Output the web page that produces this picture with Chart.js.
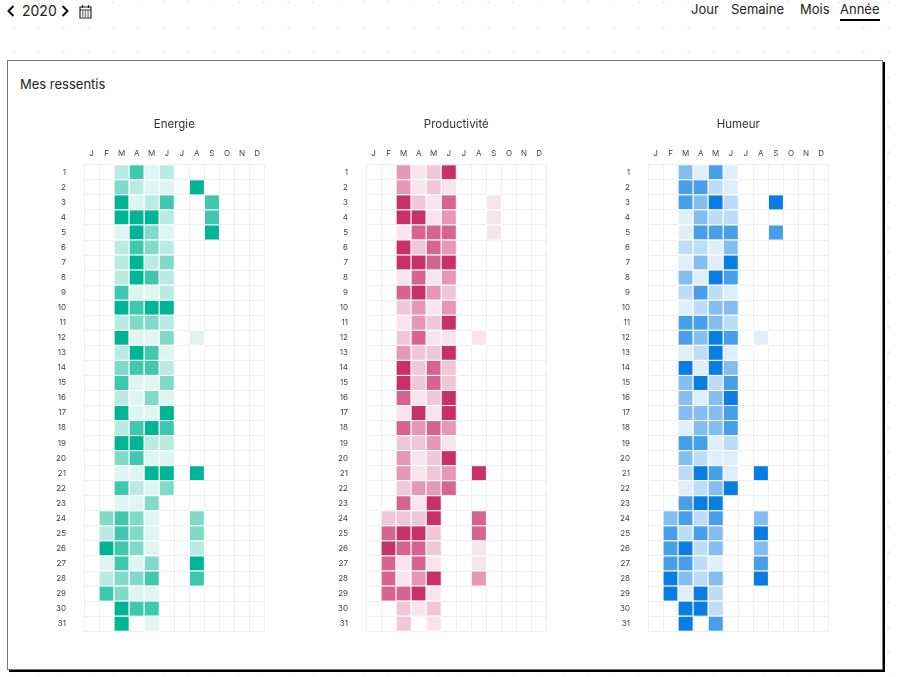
<!DOCTYPE html>
<html lang="fr">
<head>
<meta charset="utf-8">
<title>Mes ressentis</title>
<script src="https://cdn.jsdelivr.net/npm/chart.js@4"></script>
<style>
  html, body { margin: 0; padding: 0; }
  body {
    width: 900px; height: 677px; position: relative; overflow: hidden; background: #fff;
    font-family: Inter, sans-serif; color: #222;
    background-image: radial-gradient(circle, #efefef 1px, transparent 1.2px);
    background-size: 25px 25px; background-position: 1px 15px; background-repeat: repeat;
  }
  .year { position: absolute; left: 22px; top: 0; font-size: 14px; line-height: 22px; }
  .nav { position: absolute; top: 0; font-size: 13px; line-height: 18px; }
  .nav.on { border-bottom: 2px solid #000; padding-bottom: 1px; }
  svg { position: absolute; }
  .card {
    position: absolute; left: 7px; top: 60px; width: 874px; height: 608px; background: #fff;
    border: 1px solid #777; box-shadow: 2px 2px 0 #000;
  }
  .card h2 { position: absolute; left: 12px; top: 14px; margin: 0; font-size: 13px; font-weight: 400; line-height: 18px; }
  canvas { position: absolute; top: 106px; }
</style>
</head>
<body>
<svg style="left:5px;top:5px" width="10" height="12" viewBox="0 0 10 12"><path d="M8.5 1 3.5 6l5 5" fill="none" stroke="#111" stroke-width="2"/></svg>
<div class="year">2020</div>
<svg style="left:60px;top:5px" width="10" height="12" viewBox="0 0 10 12"><path d="M2.5 1 7.5 6l-5 5" fill="none" stroke="#111" stroke-width="2"/></svg>
<svg style="left:79px;top:4px" width="13" height="15" viewBox="0 0 13 15"><path d="M1 3h11v11H1zM1 6h11M3.5 1v3M9.5 1v3" fill="none" stroke="#222" stroke-width="1.2"/><path d="M3 8h7M3 10h7M3 12h7" stroke="#222" stroke-dasharray="1.5 1.2"/></svg>
<div class="nav" style="left:691px">Jour</div>
<div class="nav" style="left:731px">Semaine</div>
<div class="nav" style="left:800px">Mois</div>
<div class="nav on" style="left:840px">Année</div>

<div class="card">
  <h2>Mes ressentis</h2>
</div>
<canvas id="energie" width="225" height="548" style="left:41px"></canvas>
<canvas id="productivite" width="225" height="548" style="left:323px"></canvas>
<canvas id="humeur" width="225" height="548" style="left:605px"></canvas>

<script>
const months = ["Jan", "Fév", "Mar", "Avr", "Mai", "Juin", "Juil", "Aoû", "Sep", "Oct", "Nov", "Déc"];
const days = ["1","2","3","4","5","6","7","8","9","10","11","12","13","14","15","16","17","18","19","20","21","22","23","24","25","26","27","28","29","30","31"];

// one line per day, one number per month, 0 = pas de saisie
const energie = [
  [0,0,2,4,1,2,0,0,0,0,0,0],
  [0,0,3,2,1,1,0,5,0,0,0,0],
  [0,0,5,1,2,4,0,0,4,0,0,0],
  [0,0,5,5,5,2,0,0,4,0,0,0],
  [0,0,1,5,3,1,0,0,5,0,0,0],
  [0,0,2,4,3,2,0,0,0,0,0,0],
  [0,0,2,5,2,3,0,0,0,0,0,0],
  [0,0,2,5,4,2,0,0,0,0,0,0],
  [0,0,4,1,1,2,0,0,0,0,0,0],
  [0,0,5,4,5,5,0,0,0,0,0,0],
  [0,0,2,3,3,2,0,0,0,0,0,0],
  [0,0,5,1,1,3,0,1,0,0,0,0],
  [0,0,2,5,4,1,0,0,0,0,0,0],
  [0,0,3,4,4,2,0,0,0,0,0,0],
  [0,0,4,1,1,3,0,0,0,0,0,0],
  [0,0,2,1,3,1,0,0,0,0,0,0],
  [0,0,5,1,1,5,0,0,0,0,0,0],
  [0,0,2,4,5,4,0,0,0,0,0,0],
  [0,0,5,5,2,2,0,0,0,0,0,0],
  [0,0,3,4,1,1,0,0,0,0,0,0],
  [0,0,1,1,5,5,0,5,0,0,0,0],
  [0,0,4,2,1,3,0,0,0,0,0,0],
  [0,0,1,1,3,0,0,0,0,0,0,0],
  [0,3,4,3,1,0,0,3,0,0,0,0],
  [0,2,4,3,1,0,0,3,0,0,0,0],
  [0,5,4,3,1,0,0,2,0,0,0,0],
  [0,1,4,1,3,0,0,5,0,0,0,0],
  [0,2,3,3,4,0,0,4,0,0,0,0],
  [0,4,3,1,1,0,0,0,0,0,0,0],
  [0,0,5,4,4,0,0,0,0,0,0,0],
  [0,0,5,0,1,0,0,0,0,0,0,0],
];
const productivite = [
  [0,0,3,1,2,5,0,0,0,0,0,0],
  [0,0,3,1,2,1,0,0,0,0,0,0],
  [0,0,5,2,1,4,0,0,1,0,0,0],
  [0,0,5,5,1,3,0,0,1,0,0,0],
  [0,0,1,4,4,4,0,0,1,0,0,0],
  [0,0,5,2,4,3,0,0,0,0,0,0],
  [0,0,5,5,4,5,0,0,0,0,0,0],
  [0,0,1,4,1,3,0,0,0,0,0,0],
  [0,0,4,5,3,2,0,0,0,0,0,0],
  [0,0,2,3,1,3,0,0,0,0,0,0],
  [0,0,1,3,2,5,0,0,0,0,0,0],
  [0,0,2,4,1,1,0,1,0,0,0,0],
  [0,0,3,2,2,5,0,0,0,0,0,0],
  [0,0,5,2,4,2,0,0,0,0,0,0],
  [0,0,5,2,4,2,0,0,0,0,0,0],
  [0,0,4,1,2,5,0,0,0,0,0,0],
  [0,0,1,5,1,5,0,0,0,0,0,0],
  [0,0,4,3,4,3,0,0,0,0,0,0],
  [0,0,2,2,3,1,0,0,0,0,0,0],
  [0,0,3,1,2,5,0,0,0,0,0,0],
  [0,0,3,1,2,3,0,5,0,0,0,0],
  [0,0,2,3,3,4,0,0,0,0,0,0],
  [0,0,4,1,5,0,0,0,0,0,0,0],
  [0,2,2,2,5,0,0,4,0,0,0,0],
  [0,4,5,5,2,0,0,4,0,0,0,0],
  [0,5,4,4,2,0,0,1,0,0,0,0],
  [0,4,1,4,1,0,0,1,0,0,0,0],
  [0,4,1,3,5,0,0,3,0,0,0,0],
  [0,4,4,5,1,0,0,0,0,0,0,0],
  [0,0,2,1,2,0,0,0,0,0,0,0],
  [0,0,2,0,1,0,0,0,0,0,0,0],
];
const humeur = [
  [0,0,3,1,4,1,0,0,0,0,0,0],
  [0,0,4,4,2,1,0,0,0,0,0,0],
  [0,0,4,3,5,2,0,0,5,0,0,0],
  [0,0,1,3,2,2,0,0,0,0,0,0],
  [0,0,1,4,4,4,0,0,4,0,0,0],
  [0,0,2,2,1,3,0,0,0,0,0,0],
  [0,0,1,3,1,5,0,0,0,0,0,0],
  [0,0,3,1,5,4,0,0,0,0,0,0],
  [0,0,2,4,2,1,0,0,0,0,0,0],
  [0,0,1,2,3,3,0,0,0,0,0,0],
  [0,0,4,4,3,2,0,0,0,0,0,0],
  [0,0,4,3,5,4,0,1,0,0,0,0],
  [0,0,1,2,5,1,0,0,0,0,0,0],
  [0,0,5,1,5,3,0,0,0,0,0,0],
  [0,0,3,5,2,4,0,0,0,0,0,0],
  [0,0,3,1,3,5,0,0,0,0,0,0],
  [0,0,3,3,3,4,0,0,0,0,0,0],
  [0,0,1,3,3,4,0,0,0,0,0,0],
  [0,0,4,4,1,2,0,0,0,0,0,0],
  [0,0,3,2,1,1,0,0,0,0,0,0],
  [0,0,2,5,4,1,0,5,0,0,0,0],
  [0,0,1,2,3,5,0,0,0,0,0,0],
  [0,0,4,5,5,0,0,0,0,0,0,0],
  [0,3,4,2,4,0,0,3,0,0,0,0],
  [0,4,2,4,3,0,0,5,0,0,0,0],
  [0,4,5,2,3,0,0,3,0,0,0,0],
  [0,4,4,2,1,0,0,4,0,0,0,0],
  [0,5,3,2,3,0,0,5,0,0,0,0],
  [0,5,1,5,2,0,0,0,0,0,0,0],
  [0,0,5,5,2,0,0,0,0,0,0,0],
  [0,0,5,0,4,0,0,0,0,0,0,0],
];

const levelAlpha = [0, 0.13, 0.27, 0.5, 0.75, 1];

function toPoints(rows) {
  const points = [];
  rows.forEach((row, d) => {
    row.forEach((level, m) => {
      if (level > 0) points.push({ x: months[m], y: days[d], level: level });
    });
  });
  return points;
}

// mix with white so the grid doesn't show through the cells
function cellColor(rgb, level) {
  const a = levelAlpha[level];
  const mixed = rgb.map(c => Math.round(255 - (255 - c) * a));
  return `rgb(${mixed.join(",")})`;
}

function heatmap(id, title, rows, rgb) {
  new Chart(document.getElementById(id), {
    type: "scatter",
    data: {
      datasets: [{
        data: toPoints(rows),
        pointStyle: "rect",
        // rect side = radius * sqrt(2), so the cell fills one month step
        radius: ctx => ctx.chart.scales.x.width / 12 * Math.SQRT1_2,
        backgroundColor: ctx => cellColor(rgb, ctx.raw.level),
        borderColor: "#fff",
        borderWidth: 1,
      }],
    },
    options: {
      responsive: false,
      animation: false,
      events: [],
      layout: { padding: { right: 1, top: 12, bottom: 1 } },
      plugins: {
        legend: { display: false },
        tooltip: { enabled: false },
        title: {
          display: true, text: title, color: "#333", fullSize: false,
          font: { family: "Inter", size: 11.5, weight: "normal" },
          padding: { top: 0, bottom: 16 },
        },
      },
      scales: {
        x: {
          type: "category", labels: months, position: "top", offset: true,
          afterFit: s => { s.height = 17; },
          grid: { color: "#eeeeee", drawTicks: false, offset: true },
          border: { color: "#eeeeee" },
          ticks: {
            color: "#444", font: { family: "Inter", size: 8 }, padding: 6,
            maxRotation: 0, autoSkip: false,
            callback: function (v) { return months[v].charAt(0); },
          },
        },
        y: {
          type: "category", labels: days, offset: true,
          afterFit: s => { s.width = 43; },
          grid: { color: "#eeeeee", drawTicks: false, offset: true },
          border: { color: "#eeeeee" },
          ticks: {
            color: "#444", font: { family: "Inter", size: 8 }, padding: 18,
            autoSkip: false,
          },
        },
      },
    },
  });
}

heatmap("energie", "Energie", energie, [0, 181, 148]);
heatmap("productivite", "Productivité", productivite, [200, 48, 104]);
heatmap("humeur", "Humeur", humeur, [9, 125, 226]);
</script>
</body>
</html>
